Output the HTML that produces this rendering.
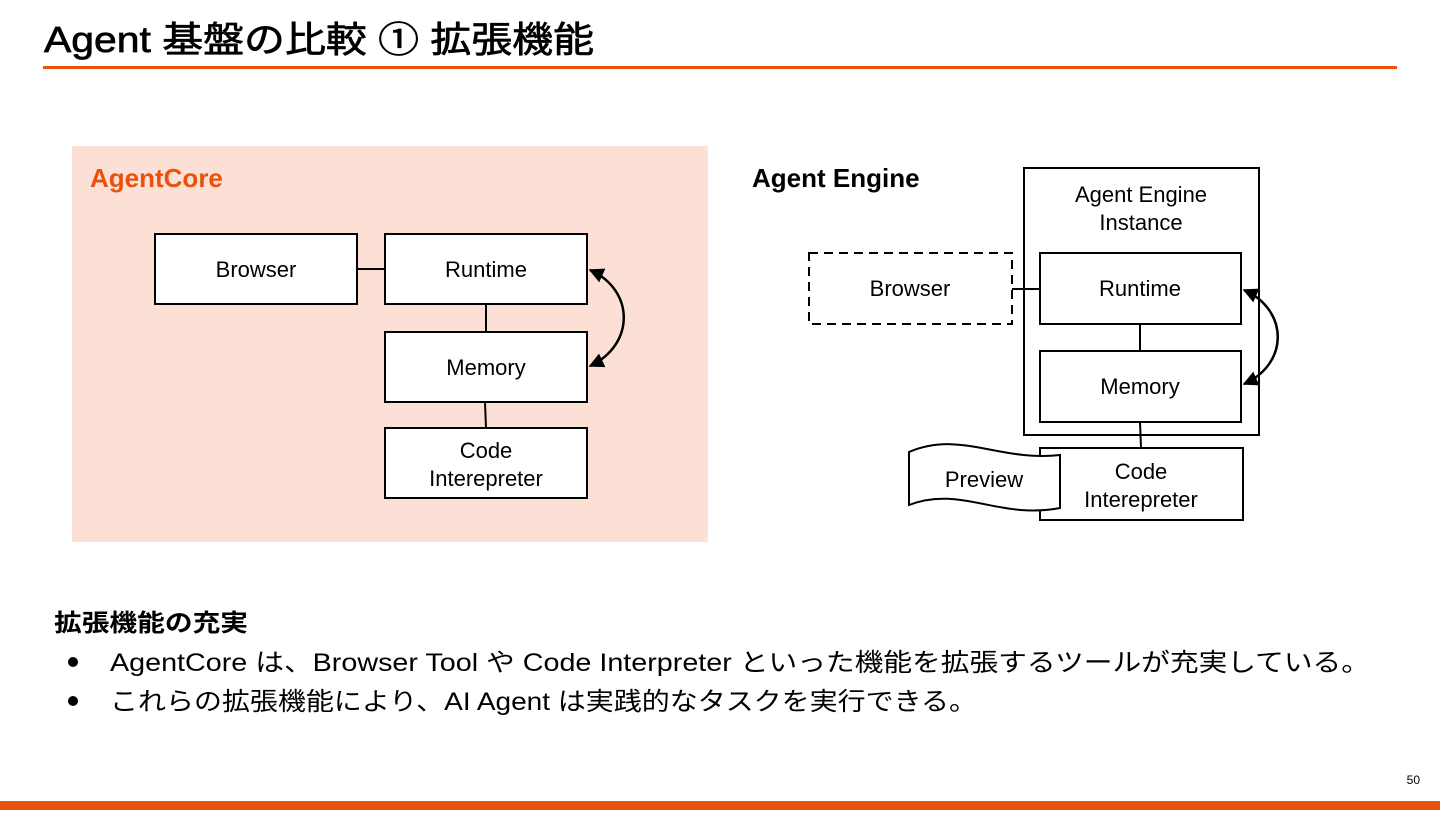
<!DOCTYPE html>
<html><head><meta charset="utf-8"><style>
body{margin:0;width:1440px;height:810px;background:#fff;overflow:hidden;font-family:"Liberation Sans","Noto Sans CJK JP",sans-serif;}
svg text{font-family:"Liberation Sans","Noto Sans CJK JP",sans-serif;}
</style></head><body>
<svg width="1440" height="810" viewBox="0 0 1440 810" xmlns="http://www.w3.org/2000/svg">
<defs><marker id="a" viewBox="0 0 10 10" refX="9" refY="5" markerWidth="6" markerHeight="6" orient="auto-start-reverse"><path d="M0,0L10,5L0,10z" fill="#000"/></marker></defs>
<text x="44" y="52" font-size="36" stroke="#000" stroke-width="0.7" textLength="550" lengthAdjust="spacingAndGlyphs" fill="#000">Agent 基盤の比較 ① 拡張機能</text>
<rect x="43" y="66" width="1354" height="3" fill="#e8520e"/>
<rect x="0" y="801" width="1440" height="9" fill="#e8520e"/>
<text x="1420" y="784" font-size="12" text-anchor="end">50</text>

<rect x="72" y="146" width="636" height="396" fill="#fde0d5"/>
<text x="90" y="187" font-size="26" font-weight="bold" fill="#e8520e">AgentCore</text>
<g fill="#fff" stroke="#000" stroke-width="2">
<rect x="155" y="234" width="202" height="70"/>
<rect x="385" y="234" width="202" height="70"/>
<rect x="385" y="332" width="202" height="70"/>
<rect x="385" y="428" width="202" height="70"/>
</g>
<g stroke="#000" stroke-width="2" fill="none">
<line x1="357" y1="269" x2="385" y2="269"/>
<line x1="486" y1="304" x2="486" y2="332"/>
<line x1="485" y1="402" x2="486" y2="428"/>
<path d="M590,270 C635,290 635,345 590,366" stroke-width="2.5" marker-start="url(#a)" marker-end="url(#a)"/>
</g>
<g font-size="22" text-anchor="middle">
<text x="256" y="277">Browser</text>
<text x="486" y="277">Runtime</text>
<text x="486" y="375">Memory</text>
<text x="486" y="458">Code</text>
<text x="486" y="486">Interepreter</text>
</g>

<text x="752" y="187" font-size="26" font-weight="bold">Agent Engine</text>
<rect x="1024" y="168" width="235" height="267" fill="#fff" stroke="#000" stroke-width="2"/>
<g fill="#fff" stroke="#000" stroke-width="2">
<rect x="809" y="253" width="203" height="71" stroke-dasharray="9,6"/>
<rect x="1040" y="253" width="201" height="71"/>
<rect x="1040" y="351" width="201" height="71"/>
<rect x="1040" y="448" width="203" height="72"/>
</g>
<g stroke="#000" stroke-width="2" fill="none">
<line x1="1012" y1="289" x2="1040" y2="289"/>
<line x1="1140" y1="324" x2="1140" y2="351"/>
<line x1="1140" y1="422" x2="1141" y2="448"/>
<path d="M1244,290 C1289,310 1289,364 1244,384" stroke-width="2.5" marker-start="url(#a)" marker-end="url(#a)"/>
</g>
<path d="M909,452 C960,430 1000,462 1060,455 L1060,508 C1000,520 960,485 909,505 Z" fill="#fff" stroke="#000" stroke-width="2"/>
<g font-size="22" text-anchor="middle">
<text x="1141" y="202">Agent Engine</text>
<text x="1141" y="230">Instance</text>
<text x="910" y="296">Browser</text>
<text x="1140" y="296">Runtime</text>
<text x="1140" y="394">Memory</text>
<text x="984" y="487">Preview</text>
<text x="1141" y="479">Code</text>
<text x="1141" y="507">Interepreter</text>
</g>

<text x="54" y="631" font-size="24" font-weight="bold" textLength="194" lengthAdjust="spacingAndGlyphs">拡張機能の充実</text>
<g font-size="25">
<circle cx="73" cy="662" r="5"/>
<text x="110" y="671" textLength="1260" lengthAdjust="spacingAndGlyphs">AgentCore は、Browser Tool や Code Interpreter といった機能を拡張するツールが充実している。</text>
<circle cx="73" cy="701" r="5"/>
<text x="110" y="710" textLength="867" lengthAdjust="spacingAndGlyphs">これらの拡張機能により、AI Agent は実践的なタスクを実行できる。</text>
</g>
</svg>
</body></html>
